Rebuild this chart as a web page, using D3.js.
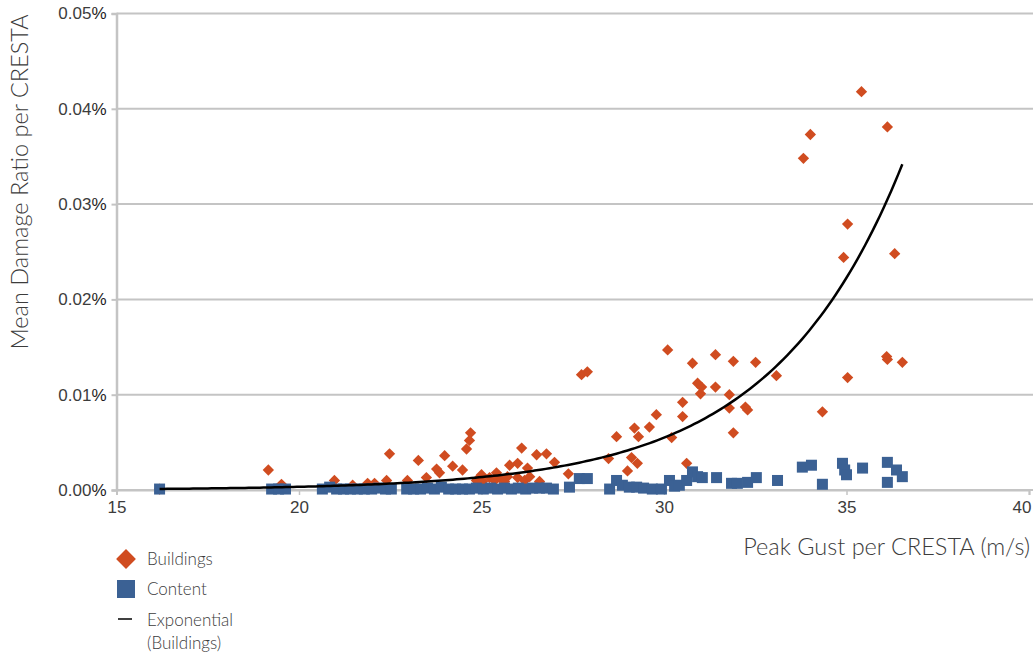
<!DOCTYPE html>
<html>
<head>
<meta charset="utf-8">
<script src="https://cdn.jsdelivr.net/npm/d3@7"></script>
<style>
  html, body { margin: 0; padding: 0; background: #fff; }
  svg { display: block; font-family: Lato, "Open Sans", "DejaVu Sans", sans-serif; }
</style>
</head>
<body>
<svg id="chart" width="1033" height="653"></svg>
<script>
// Axis ticks
const xTickValues = [15, 20, 25, 30, 35, 40];
const yTickValues = [0, 0.01, 0.02, 0.03, 0.04, 0.05];

// Buildings: peak gust (m/s) and mean damage ratio (%) per CRESTA zone
const buildingsGust = [16.18, 19.16, 19.52, 20.97, 21.47, 21.88, 22.07, 22.40, 22.48, 22.97,
  23.27, 23.49, 23.77, 23.85, 23.99, 24.21, 24.48, 24.59, 24.67, 24.70,
  24.86, 25.00, 25.03, 25.22, 25.36, 25.41, 25.49, 25.63, 25.71, 25.77,
  25.99, 25.99, 26.10, 26.18, 26.26, 26.32, 26.51, 26.59, 26.78, 27.00,
  27.38, 27.74, 27.90, 28.48, 28.70, 29.00, 29.11, 29.19, 29.27, 29.30,
  29.60, 29.79, 30.10, 30.21, 30.51, 30.51, 30.62, 30.78, 30.92, 31.00,
  31.03, 31.41, 31.41, 31.79, 31.79, 31.90, 31.90, 32.23, 32.29, 32.51,
  33.08, 33.82, 34.01, 34.34, 34.92, 35.03, 35.03, 35.41, 36.10, 36.12,
  36.12, 36.32, 36.53];
const buildingsMdr = [0.0001, 0.0021, 0.0006, 0.0010, 0.0005, 0.0007, 0.0007, 0.0010, 0.0038, 0.0010,
  0.0031, 0.0013, 0.0022, 0.0018, 0.0036, 0.0025, 0.0021, 0.0043, 0.0052, 0.0060,
  0.0010, 0.0016, 0.0009, 0.0013, 0.0010, 0.0018, 0.0013, 0.0009, 0.0014, 0.0026,
  0.0028, 0.0013, 0.0044, 0.0010, 0.0023, 0.0014, 0.0037, 0.0009, 0.0038, 0.0029,
  0.0017, 0.0121, 0.0124, 0.0033, 0.0056, 0.0020, 0.0034, 0.0065, 0.0028, 0.0056,
  0.0066, 0.0079, 0.0147, 0.0055, 0.0092, 0.0077, 0.0028, 0.0133, 0.0112, 0.0101,
  0.0108, 0.0142, 0.0108, 0.0100, 0.0086, 0.0135, 0.0060, 0.0087, 0.0084, 0.0134,
  0.0120, 0.0348, 0.0373, 0.0082, 0.0244, 0.0279, 0.0118, 0.0418, 0.0140, 0.0381,
  0.0137, 0.0248, 0.0134];

// Content: peak gust (m/s) and mean damage ratio (%) per CRESTA zone
const contentGust = [16.18, 19.25, 19.44, 19.63, 20.64, 20.84, 21.03, 21.22, 21.41, 21.60,
  21.79, 21.99, 22.18, 22.37, 22.53, 22.95, 23.14, 23.33, 23.52, 23.71,
  23.90, 24.10, 24.29, 24.48, 24.67, 24.86, 25.05, 25.25, 25.44, 25.63,
  25.82, 26.01, 26.21, 26.40, 26.59, 26.78, 26.97, 27.41, 27.68, 27.90,
  28.51, 28.70, 28.86, 29.05, 29.25, 29.44, 29.68, 29.93, 30.15, 30.29,
  30.42, 30.62, 30.78, 30.92, 31.05, 31.44, 31.85, 32.01, 32.29, 32.53,
  33.11, 33.79, 34.04, 34.34, 34.89, 34.95, 35.00, 35.44, 36.12, 36.12,
  36.37, 36.53];
const contentMdr = [0.0001, 0.0001, 0.0001, 0.0001, 0.0001, 0.0003, 0.0001, 0.0001, 0.0001, 0.0001,
  0.0001, 0.0001, 0.0002, 0.0001, 0.0001, 0.0001, 0.0001, 0.0001, 0.0002, 0.0001,
  0.0003, 0.0001, 0.0001, 0.0001, 0.0001, 0.0002, 0.0001, 0.0002, 0.0001, 0.0002,
  0.0001, 0.0002, 0.0001, 0.0002, 0.0002, 0.0002, 0.0001, 0.0003, 0.0012, 0.0012,
  0.0001, 0.0010, 0.0005, 0.0003, 0.0003, 0.0002, 0.0001, 0.0001, 0.0010, 0.0004,
  0.0005, 0.0010, 0.0019, 0.0014, 0.0013, 0.0013, 0.0007, 0.0007, 0.0008, 0.0013,
  0.0010, 0.0024, 0.0026, 0.0006, 0.0028, 0.0021, 0.0016, 0.0023, 0.0029, 0.0008,
  0.0021, 0.0014];

// Exponential trendline on Buildings: mdr = A * exp(B * gust)
const trendA = 1.235e-6;
const trendB = 0.28;

const legendLabels = ["Buildings", "Content", ["Exponential", "(Buildings)"]];

const colBuildings = "#d04c20";
const colContent = "#3b6194";
const colGrid = "#c4c4c4";
const colText = "#3c3c3c";

const svg = d3.select("#chart");

const x = d3.scaleLinear().domain([15, 40]).range([116.5, 1029]);
const y = d3.scaleLinear().domain([0, 0.05]).range([490, 13.5]);

// Horizontal gridlines
svg.append("g")
  .selectAll("line")
  .data(yTickValues)
  .join("line")
  .attr("x1", x(15))
  .attr("x2", 1033)
  .attr("y1", d => y(d))
  .attr("y2", d => y(d))
  .attr("stroke", colGrid)
  .attr("stroke-width", 2);

// Y axis
const yAxis = svg.append("g")
  .attr("transform", `translate(${x(15)},0)`)
  .call(d3.axisLeft(y).tickValues(yTickValues).tickSize(5).tickPadding(5).tickFormat(d3.format(".2f")));
yAxis.select(".domain").attr("stroke", colGrid).attr("stroke-width", 2.5);
yAxis.selectAll(".tick line").attr("stroke", colGrid).attr("stroke-width", 2);
yAxis.selectAll(".tick text")
  .attr("fill", colText)
  .style("font-size", "17px")
  .style("font-weight", 300)
  .each(function () {
    d3.select(this).append("tspan")
      .text("%")
      .style("font-weight", 400)
      .attr("fill", "#1e1e1e");
  });

// X axis
const xAxis = svg.append("g")
  .attr("transform", `translate(0,${y(0)})`)
  .call(d3.axisBottom(x).tickValues(xTickValues).tickSize(5).tickPadding(6).tickFormat(d3.format("d")));
xAxis.select(".domain").attr("stroke", colGrid).attr("stroke-width", 2);
xAxis.selectAll(".tick line").attr("stroke", colGrid).attr("stroke-width", 1.5);
xAxis.selectAll(".tick text")
  .attr("fill", colText)
  .style("font-size", "17px")
  .style("font-weight", 300);
// keep the last label inside the drawing area
xAxis.selectAll(".tick text")
  .filter(d => d === d3.max(xTickValues))
  .attr("text-anchor", "end")
  .attr("dx", 1031 - x(d3.max(xTickValues)));

// Buildings markers (diamonds)
const buildings = buildingsGust.map((g, i) => ({ g, v: buildingsMdr[i] }));
svg.append("g")
  .selectAll("rect")
  .data(buildings)
  .join("rect")
  .attr("x", -4)
  .attr("y", -4)
  .attr("width", 8)
  .attr("height", 8)
  .attr("transform", d => `translate(${x(d.g)},${y(d.v)}) rotate(45)`)
  .attr("fill", colBuildings);

// Content markers (squares)
const content = contentGust.map((g, i) => ({ g, v: contentMdr[i] }));
svg.append("g")
  .selectAll("rect")
  .data(content)
  .join("rect")
  .attr("x", d => x(d.g) - 5.5)
  .attr("y", d => y(d.v) - 5.5)
  .attr("width", 11)
  .attr("height", 11)
  .attr("fill", colContent);

// Exponential trendline across the Buildings gust range
const [gMin, gMax] = d3.extent(buildingsGust);
const trendPts = d3.range(0, 201).map(k => {
  const g = gMin + (gMax - gMin) * k / 200;
  return [g, trendA * Math.exp(trendB * g)];
});
svg.append("path")
  .datum(trendPts)
  .attr("fill", "none")
  .attr("stroke", "#000")
  .attr("stroke-width", 2.5)
  .attr("d", d3.line().x(d => x(d[0])).y(d => y(d[1])));

// Axis titles
svg.append("text")
  .attr("transform", "translate(28,182) rotate(-90)")
  .attr("text-anchor", "middle")
  .attr("fill", colText)
  .style("font-size", "23.5px")
  .style("font-weight", 300)
  .text("Mean Damage Ratio per CRESTA");

svg.append("text")
  .attr("x", 1030)
  .attr("y", 555)
  .attr("text-anchor", "end")
  .attr("fill", colText)
  .style("font-size", "23.5px")
  .style("font-weight", 300)
  .text("Peak Gust per CRESTA (m/s)");

// Legend
const legend = svg.append("g").attr("transform", "translate(126,0)");
legend.append("rect")
  .attr("x", -7).attr("y", -7).attr("width", 14).attr("height", 14)
  .attr("transform", "translate(0,559) rotate(45)")
  .attr("fill", colBuildings);
legend.append("rect")
  .attr("x", -9).attr("y", 580).attr("width", 18).attr("height", 18)
  .attr("fill", colContent);
legend.append("line")
  .attr("x1", -8).attr("x2", 6).attr("y1", 619).attr("y2", 619)
  .attr("stroke", "#000").attr("stroke-width", 1.5);

const legendText = legend.append("g")
  .attr("fill", colText)
  .style("font-size", "17px")
  .style("font-weight", 300);
legendText.append("text").attr("x", 21).attr("y", 565).text(legendLabels[0]);
legendText.append("text").attr("x", 21).attr("y", 595).text(legendLabels[1]);
const expText = legendText.append("text").attr("x", 21).attr("y", 626);
expText.selectAll("tspan")
  .data(legendLabels[2])
  .join("tspan")
  .attr("x", 21)
  .attr("dy", (d, i) => i === 0 ? 0 : 23)
  .text(d => d);
</script>
</body>
</html>
